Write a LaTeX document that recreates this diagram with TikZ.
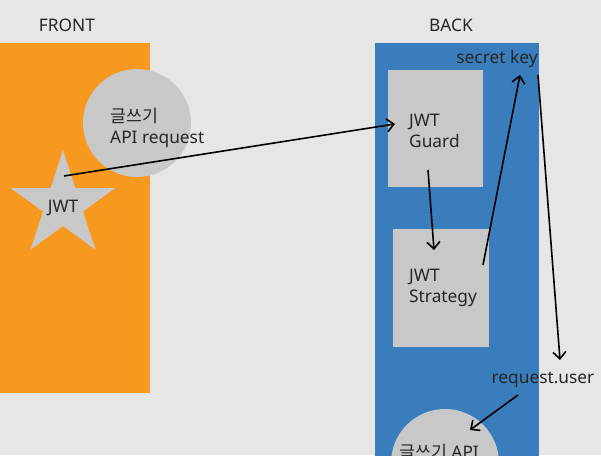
\documentclass[tikz,border=0pt]{standalone}
\usepackage{fontspec}
\setmainfont{Noto Sans}
\newfontfamily\krfont{Noto Sans CJK KR}
\usetikzlibrary{shapes.geometric,arrows.meta}
\definecolor{bggray}{HTML}{E6E6E6}
\definecolor{frontorange}{HTML}{F7991F}
\definecolor{backblue}{HTML}{3A7DBD}
\definecolor{boxgray}{HTML}{C8C8C8}

\begin{document}
\begin{tikzpicture}[x=1pt,y=-1pt,
		font=\fontsize{17.3}{20.5}\selectfont, text=black!85,
		label/.style={inner sep=0pt, align=left},
		card/.style={fill=boxgray, draw=none, inner sep=0pt},
		flow/.style={-{Straight Barb[length=7pt,width=13pt]}, line width=1.6pt}]
		\useasboundingbox (0,0) rectangle (601,455);
		\clip (0,0) rectangle (601,455);
		\fill[bggray] (0,0) rectangle (601,455);

		% front = orange, back = blue
		\fill[frontorange] (0,43) rectangle (150,393);
		\fill[backblue] (375,43) rectangle (539,470);
		\node[label] (fronttitle) at (67,25) {FRONT};
		\node[label] (backtitle) at (451,25) {BACK};

		% front side
		\node[card, circle, minimum size=108] (request) at (137,123) {};
		\node[label, anchor=west] (requesttxt) at (110,128) {{\krfont 글쓰기}\\API request};
		\node[card, star, star points=5, star point ratio=2.618, minimum size=110] (token) at (63,205) {};
		\node[label] (tokentxt) at (63,208) {JWT};

		% back side
		\node[card, minimum width=95, minimum height=117] (guard) at (435.5,128.5) {};
		\node[label, anchor=west] (guardtxt) at (409,131) {JWT\\Guard};
		\node[card, minimum width=96, minimum height=118] (strategy) at (441,288) {};
		\node[label, anchor=west] (strategytxt) at (409,288) {JWT\\Strategy};
		\node[label] (secret) at (497,59) {secret key};
		\node[label] (user) at (543,380) {request.user};
		\node[card, circle, minimum size=108] (writeapi) at (445,463) {};
		\node[label, anchor=west] (writeapitxt) at (399,452) {{\krfont 글쓰기} API};

		% connector ends
		\coordinate (tokenout) at (64,176);
		\coordinate (guardin) at (395,124);
		\coordinate (guardout) at (428,170);
		\coordinate (strategyin) at (434,250);
		\coordinate (strategyout) at (483,265);
		\coordinate (secretin) at (520,75);
		\coordinate (secretout) at (538,75);
		\coordinate (userin) at (560,360);
		\coordinate (userout) at (518,395);
		\coordinate (writeapiin) at (470,430);

		\draw[flow] (tokenout) -- (guardin);
		\draw[flow] (guardout) -- (strategyin);
		\draw[flow] (strategyout) -- (secretin);
		\draw[flow] (secretout) -- (userin);
		\draw[flow] (userout) -- (writeapiin);
	\end{tikzpicture}
\end{document}
